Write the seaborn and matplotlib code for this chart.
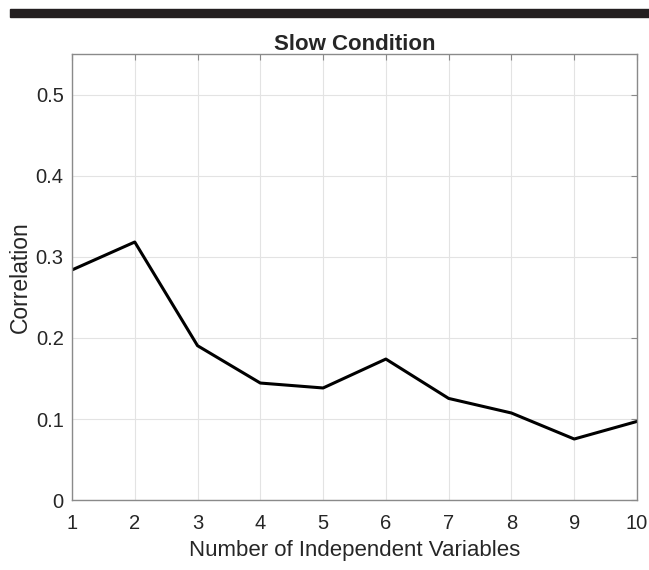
import matplotlib
matplotlib.use("Agg")
from matplotlib import pyplot as plt
import matplotlib.patches as patches
import pandas as pd
import seaborn as sns

# values
num_vars = [1, 2, 3, 4, 5, 6, 7, 8, 9, 10]
correlation = [0.284, 0.3185, 0.1905, 0.1444, 0.1383, 0.174, 0.1254, 0.1074, 0.0753, 0.097]
y_ticks = [0, 0.1, 0.2, 0.3, 0.4, 0.5]
y_tick_labels = ["0", "0.1", "0.2", "0.3", "0.4", "0.5"]

df = pd.DataFrame({"n": num_vars, "corr": correlation})

sns.set_style("white")
plt.rcParams["font.family"] = ["Liberation Sans", "DejaVu Sans"]

fig = plt.figure(figsize=(6.49, 5.70), dpi=100)
ax = fig.add_axes([0.1109, 0.1228, 0.8706, 0.7816])

# thick black rule across the top of the figure
fig.patches.append(patches.Rectangle((10 / 649, 1 - 17 / 570), 1, 8 / 570,
                                     transform=fig.transFigure, color="#231f20", zorder=5))

sns.lineplot(data=df, x="n", y="corr", color="black", linewidth=2.2, ax=ax)

ax.set_xlim(1, 10)
ax.set_ylim(0, 0.55)
ax.set_xticks(num_vars)
ax.set_xticklabels([str(v) for v in num_vars])
ax.set_yticks(y_ticks)
ax.set_yticklabels(y_tick_labels)
ax.grid(True, color="#e3e3e3", linewidth=0.8)
ax.set_axisbelow(True)
for s in ax.spines.values():
    s.set_color("#8a8a8a")
    s.set_linewidth(1.0)
ax.tick_params(direction="in", length=4, color="#8a8a8a", labelsize=14.5,
               labelcolor="#262626", top=True, right=True)
ax.tick_params(axis="x", pad=10)
ax.tick_params(axis="y", pad=6)

ax.set_title("Slow Condition", fontsize=16, fontweight="bold", pad=3)
ax.set_xlabel("Number of Independent Variables", fontsize=16, color="#262626", labelpad=5)
ax.set_ylabel("Correlation", fontsize=16.5, color="#262626", labelpad=3)

fig.savefig("out.png", dpi=100)
